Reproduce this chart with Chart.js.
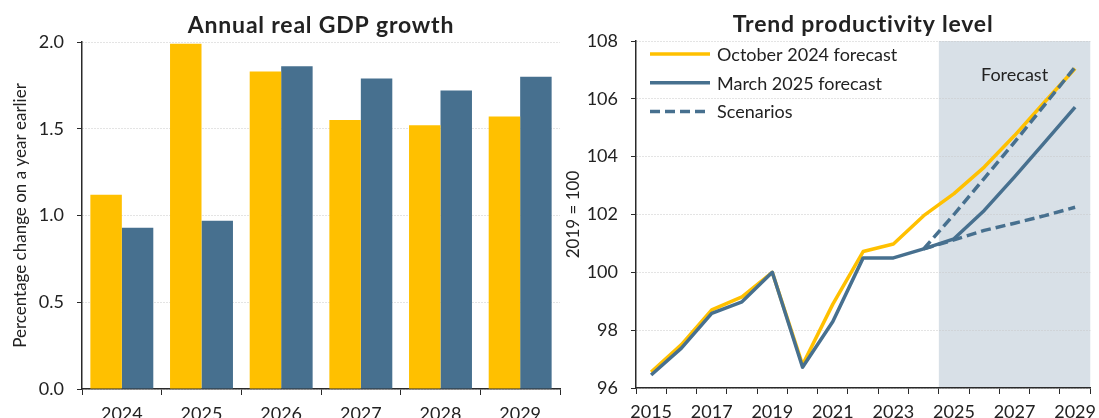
<!DOCTYPE html>
<html>
<head>
<meta charset="utf-8">
<script src="https://cdn.jsdelivr.net/npm/chart.js@4.4.1/dist/chart.umd.min.js"></script>
<style>
  html, body { margin: 0; padding: 0; background: #fff; overflow: hidden; }
  #wrap { position: relative; width: 1099px; height: 418px; overflow: hidden; }
  canvas { position: absolute; top: 0; }
  #gdp { left: 0; }
  #prod { left: 562px; }
</style>
</head>
<body>
<div id="wrap">
  <canvas id="gdp" width="562" height="440"></canvas>
  <canvas id="prod" width="541" height="440"></canvas>
</div>
<script>
// Annual real GDP growth (%)
const gdpYears = ['2024', '2025', '2026', '2027', '2028', '2029']
const gdpOct24 = [1.12, 1.99, 1.83, 1.55, 1.52, 1.57]
const gdpMar25 = [0.93, 0.97, 1.86, 1.79, 1.72, 1.80]

// Trend productivity level (2019 = 100)
const prodYears = ['2015', '2016', '2017', '2018', '2019', '2020', '2021', '2022',
  '2023', '2024', '2025', '2026', '2027', '2028', '2029']
const prodOct24 = [96.55, 97.5, 98.7, 99.15, 100, 96.8, 98.9, 100.72, 100.98,
  101.96, 102.72, 103.64, 104.73, 105.9, 107.05]
const prodMar25 = [96.45, 97.38, 98.58, 98.98, 100, 96.72, 98.3, 100.5, 100.5,
  100.81, 101.16, 102.14, 103.3, 104.5, 105.71]
const scenarioHigh = [null, null, null, null, null, null, null, null, null,
  100.81, 102.0, 103.25, 104.5, 105.8, 107.1]
const scenarioLow = [null, null, null, null, null, null, null, null, null,
  100.81, 101.12, 101.45, 101.7, 101.96, 102.25]
const forecastFrom = '2025'

const FONT = 'Lato, "DejaVu Sans", sans-serif'
const YELLOW = '#FFC000'
const BLUE = '#47708F'
const TEXT = '#222222'
const AXIS = '#2a2a2a'
const GRID = '#c8c8c8'
const BAND = '#D8E0E7'

Chart.defaults.font.family = FONT
Chart.defaults.color = TEXT

// title centred over the plot area
const chartTitle = {
  id: 'chartTitle',
  afterDraw(chart, args, opts) {
    const { ctx, chartArea } = chart
    ctx.save()
    ctx.font = 'bold 23px ' + FONT
    ctx.letterSpacing = '0.8px'
    ctx.fillStyle = TEXT
    ctx.textAlign = 'center'
    ctx.textBaseline = 'alphabetic'
    ctx.fillText(opts.text, (chartArea.left + chartArea.right) / 2, opts.y)
    ctx.restore()
  }
}

const forecastBand = {
  id: 'forecastBand',
  beforeDraw(chart, args, opts) {
    const { ctx, chartArea, scales: { x } } = chart
    const i = x.getLabels().indexOf(opts.from)
    const half = (x.getPixelForValue(1) - x.getPixelForValue(0)) / 2
    const left = x.getPixelForValue(i) - half
    ctx.save()
    ctx.fillStyle = BAND
    ctx.fillRect(left, chartArea.top, chartArea.right - left, chartArea.bottom - chartArea.top)
    ctx.font = '18px ' + FONT
    ctx.fillStyle = TEXT
    ctx.textAlign = 'center'
    ctx.fillText(opts.label, (left + chartArea.right) / 2, chartArea.top + 40)
    ctx.restore()
  }
}

// legend drawn inside the plot, one row per item
const insideLegend = {
  id: 'insideLegend',
  afterDatasetsDraw(chart, args, opts) {
    const { ctx, chartArea } = chart
    ctx.save()
    ctx.font = '18px ' + FONT
    ctx.textBaseline = 'middle'
    opts.items.forEach((item, k) => {
      const ds = chart.data.datasets[item.index]
      const y = chartArea.top + 13 + k * 28.8
      const x0 = chartArea.left + 14
      ctx.strokeStyle = ds.borderColor
      ctx.lineWidth = ds.borderWidth
      ctx.setLineDash(ds.borderDash || [])
      ctx.beginPath()
      ctx.moveTo(x0, y)
      ctx.lineTo(x0 + 60, y)
      ctx.stroke()
      ctx.setLineDash([])
      ctx.fillStyle = TEXT
      ctx.fillText(item.text, x0 + 67, y + 1)
    })
    ctx.restore()
  }
}

function yAxis(min, max, step, title, width, titlePad, fmt) {
  return {
    min, max,
    ticks: { stepSize: step, padding: 13, font: { size: 18 }, color: TEXT, callback: fmt },
    grid: { color: GRID, tickColor: AXIS, tickLength: 5 },
    border: { color: AXIS, width: 1.5, dash: [1, 2] },
    title: { display: true, text: title, font: { size: 17 }, color: TEXT, padding: { top: titlePad, bottom: 0 } },
    afterFit: s => { s.width = width }
  }
}

new Chart(document.getElementById('gdp'), {
  type: 'bar',
  data: {
    labels: gdpYears,
    datasets: [
      { label: 'October 2024 forecast', data: gdpOct24, backgroundColor: YELLOW },
      { label: 'March 2025 forecast', data: gdpMar25, backgroundColor: BLUE },
    ],
  },
  options: {
    responsive: false,
    animation: false,
    devicePixelRatio: 1,
    layout: { padding: { top: 42, right: 2, left: 0, bottom: 0 } },
    datasets: { bar: { categoryPercentage: 0.79, barPercentage: 1 } },
    plugins: {
      legend: { display: false },
      tooltip: { enabled: false },
      chartTitle: { text: 'Annual real GDP growth', y: 33 },
    },
    scales: {
      x: {
        ticks: { font: { size: 18 }, color: TEXT, padding: 8.5, maxRotation: 0 },
        grid: { drawOnChartArea: false, tickColor: AXIS, tickLength: 6, offset: true },
        border: { color: AXIS, width: 1.5 },
        afterFit: s => { s.height = 51 },
      },
      y: yAxis(0, 2, 0.5, 'Percentage change on a year earlier', 82, 10, v => v.toFixed(1)),
    },
  },
  plugins: [chartTitle],
})

new Chart(document.getElementById('prod'), {
  type: 'line',
  data: {
    labels: prodYears,
    datasets: [
      { label: 'Scenarios', data: scenarioHigh, borderColor: BLUE, borderWidth: 3.5, borderDash: [10, 5], order: 0 },
      { label: 'Scenarios low', data: scenarioLow, borderColor: BLUE, borderWidth: 3.5, borderDash: [10, 5], order: 1 },
      { label: 'March 2025 forecast', data: prodMar25, borderColor: BLUE, borderWidth: 3.5, order: 2 },
      { label: 'October 2024 forecast', data: prodOct24, borderColor: YELLOW, borderWidth: 3.5, order: 3 },
    ],
  },
  options: {
    responsive: false,
    animation: false,
    devicePixelRatio: 1,
    layout: { padding: { top: 41, right: 0, left: 0, bottom: 0 } },
    elements: { point: { radius: 0 }, line: { tension: 0, borderJoinStyle: 'round' } },
    plugins: {
      legend: { display: false },
      tooltip: { enabled: false },
      chartTitle: { text: 'Trend productivity level', y: 32 },
      forecastBand: { from: forecastFrom, label: 'Forecast' },
      insideLegend: {
        items: [
          { index: 3, text: 'October 2024 forecast' },
          { index: 2, text: 'March 2025 forecast' },
          { index: 0, text: 'Scenarios' },
        ],
      },
    },
    scales: {
      x: {
        offset: true,
        ticks: {
          font: { size: 18 }, color: TEXT, padding: 7, maxRotation: 0, autoSkip: false,
          callback: (v, i) => (i % 2 === 0 ? prodYears[i] : ''),
        },
        grid: { drawOnChartArea: false, tickColor: AXIS, tickLength: 6, offset: true },
        border: { color: AXIS, width: 1.5 },
        afterFit: s => { s.height = 52 },
      },
      y: yAxis(96, 108, 2, '2019 = 100', 74, 1, v => v),
    },
  },
  plugins: [forecastBand, chartTitle, insideLegend],
})
</script>
</body>
</html>
